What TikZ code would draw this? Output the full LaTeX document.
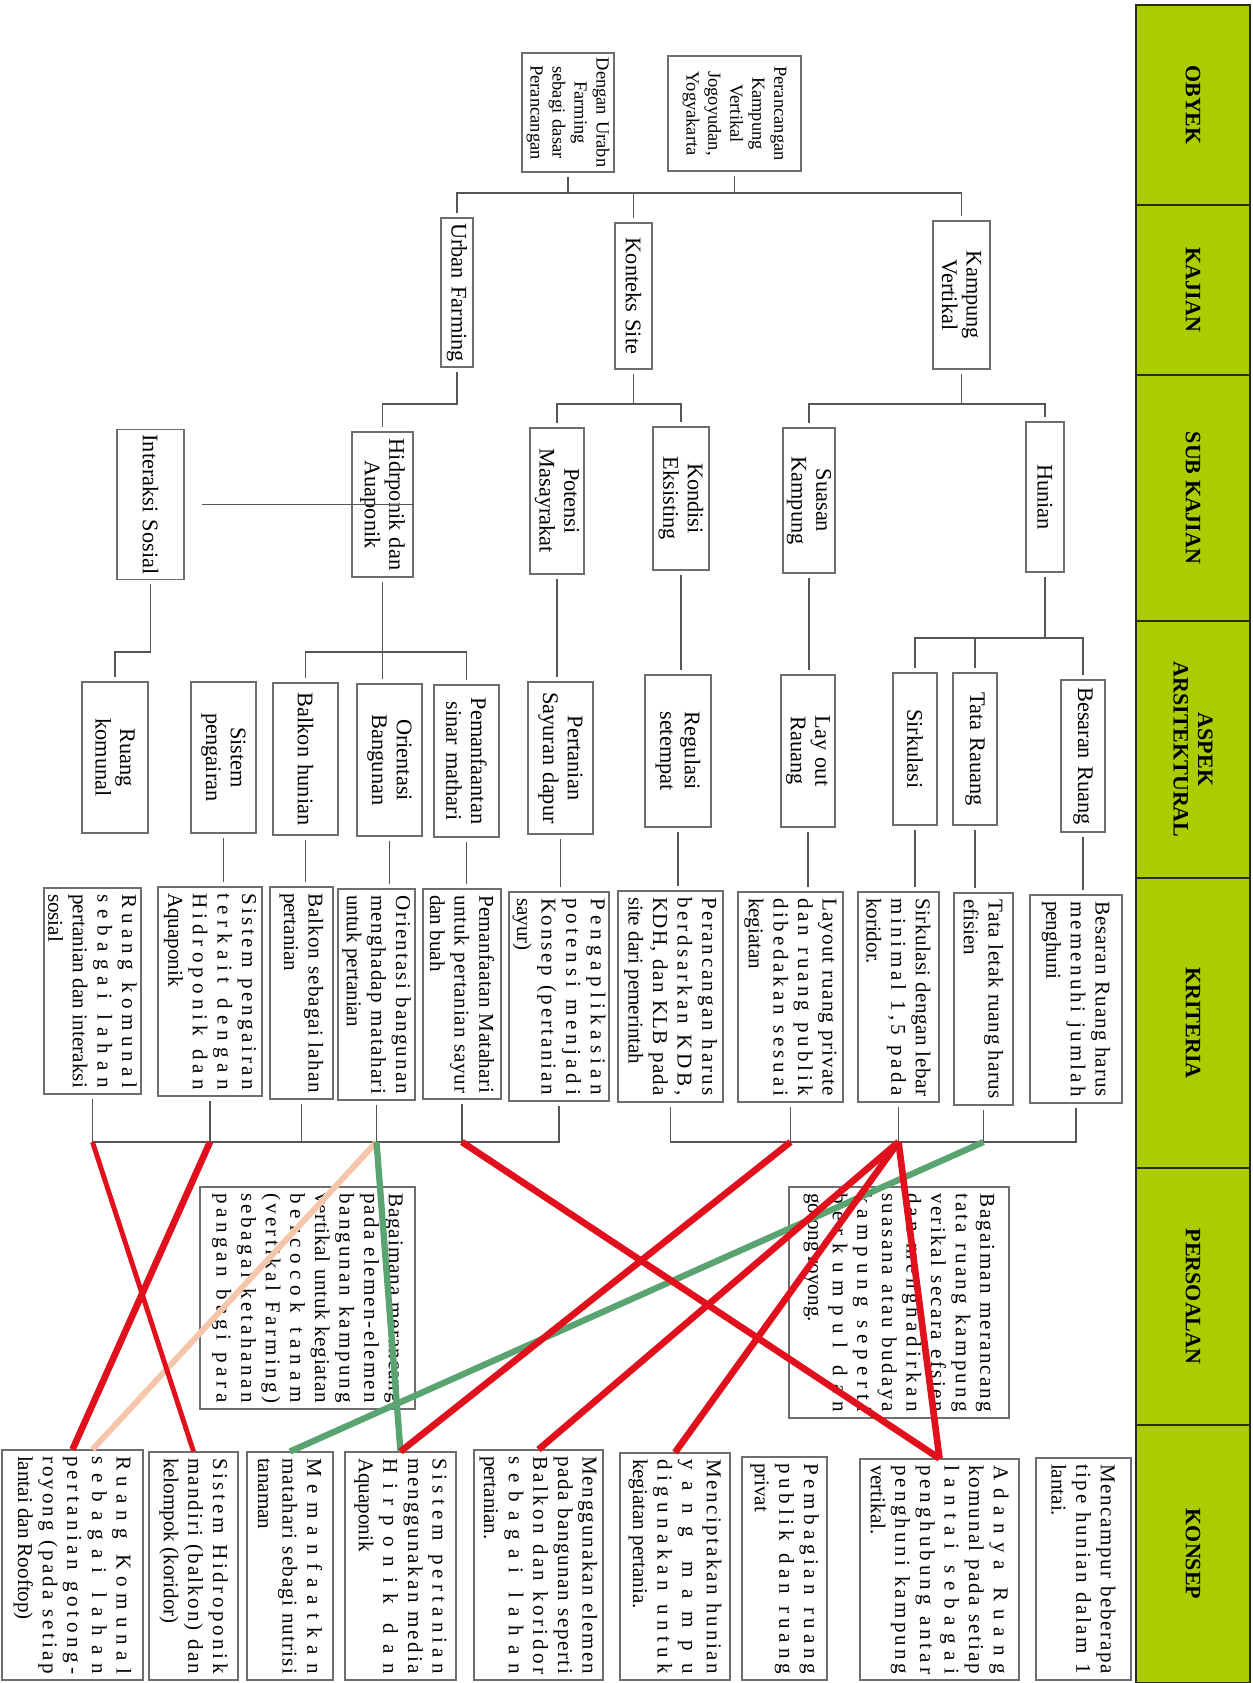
\documentclass[tikz,border=0pt]{standalone}
\usepackage{fontspec}
\setmainfont{Liberation Serif}
\usetikzlibrary{calc}
\definecolor{chead}{HTML}{AACC00}
\definecolor{cheadD}{HTML}{2B2B1A}
\definecolor{cbox}{HTML}{6E6E6E}
\definecolor{cline}{HTML}{555555}
\definecolor{cred}{HTML}{E0101C}
\definecolor{cgreen}{HTML}{5AA471}
\definecolor{cpeach}{HTML}{F5C6A9}
% letters get a little stretch inside justified lines
\newcount\chcnt
\chcnt=`A \loop\XeTeXcharclass\chcnt=1 \ifnum\chcnt<`Z \advance\chcnt by 1 \repeat
\chcnt=`a \loop\XeTeXcharclass\chcnt=1 \ifnum\chcnt<`z \advance\chcnt by 1 \repeat
\chcnt=`0 \loop\XeTeXcharclass\chcnt=1 \ifnum\chcnt<`9 \advance\chcnt by 1 \repeat
\XeTeXcharclass`(=1 \XeTeXcharclass`)=1 \XeTeXcharclass`,=1 \XeTeXcharclass`.=1 \XeTeXcharclass`-=1
\XeTeXinterchartoks 1 1 = {\hskip 0pt plus 1pt\relax}
% one justified line of a text box
\newcommand\jl[1]{\leavevmode\hbox to\hsize{\XeTeXinterchartokenstate=1 \spaceskip=0pt\xspaceskip=0pt\relax #1}\par}
\tikzset{
  cell/.style 2 args={draw=cbox, line width=0.6pt, rotate=-90, inner xsep=1.2mm, inner ysep=0.5mm,
               minimum width=#1*0.2mm, minimum height=#2*0.2mm, text width=#1*0.2mm-2.4mm},
  ntree/.style 2 args={cell={#1}{#2}, align=center, inner xsep=0.5mm, text width=#1*0.2mm-1mm,
               font=\fontsize{12.7}{14}\selectfont},
  nobj/.style 2 args={ntree={#1}{#2}, font=\fontsize{10.5}{12.5}\selectfont},
  nkrit/.style 2 args={cell={#1}{#2}, align=justify, font=\fontsize{12}{14}\selectfont},
  nhead/.style={rotate=-90, draw=cheadD, fill=chead, line width=1.6pt, align=center,
               minimum width=#1*0.2mm, minimum height=22.8mm,
               font=\fontsize{12.5}{14}\selectfont\bfseries},
  tline/.style={draw=cline, line width=0.7pt},
  tgap/.style={tline, shorten <=0.8mm, shorten >=0.8mm},
  tdrop/.style={tline, shorten >=0.8mm},
  lred/.style={draw=cred, line width=3.8pt},
  lgreen/.style={draw=cgreen, line width=3.6pt},
  lpeach/.style={draw=cpeach, line width=3.4pt},
}
\begin{document}
\begin{tikzpicture}[x=0.2mm, y=-0.2mm]
  \useasboundingbox (0,0) rectangle (1253,1683);
  % header column
  \node[nhead=200] (hobj) at (1193,105) {OBYEK};
  \node[nhead=170] (hkaj) at (1193,290) {KAJIAN};
  \node[nhead=246] (hsub) at (1193,498) {SUB KAJIAN};
  \node[nhead=257] (hasp) at (1193,749.5) {ASPEK\\ARSITEKTURAL};
  \node[nhead=290] (hkri) at (1193,1023) {KRITERIA};
  \node[nhead=257] (hsoal) at (1193,1296.5) {PERSOALAN};
  \node[nhead=258] (hkon) at (1193,1554) {KONSEP};

  \coordinate (b1) at (0,193);
  \coordinate (b2) at (0,404);
  \coordinate (b3) at (0,652);
  \coordinate (b4) at (0,638);
  \coordinate (kbus) at (0,1142);

  % obyek
  \node[nobj={115}{133}] (ob1) at (734.5,113.5) {Perancangan\\Kampung\\Vertikal\\Jogoyudan,\\Yogyakarta};
  \node[nobj={119}{92}] (ob2) at (568,112.5) {Dengan Urabn\\Farming\\sebagi dasar\\Perancangan};

  % kajian
  \node[ntree={149}{32}] (uf) at (457,292.5) {Urban Farming};
  \node[ntree={146}{37}] (ks) at (633.5,296) {Konteks Site};
  \node[ntree={148}{57}] (kv) at (961.5,295) {Kampung\\Vertikal};

  % sub kajian
  \node[ntree={150}{67}] (is) at (150.5,504.5) {Interaksi Sosial};
  \node[ntree={145}{61}] (hd) at (382.5,504.5) {Hidrponik dan\\Auaponik};
  \node[ntree={146}{54}] (pm) at (557,501) {Potensi\\Masayrakat};
  \node[ntree={143}{56}] (ke) at (681,498.5) {Kondisi\\Eksisting};
  \node[ntree={145}{52}] (sk) at (809,500.5) {Suasan\\Kampung};
  \node[ntree={150}{38}] (hn) at (1045,497) {Hunian};

  % aspek arsitektural
  \node[ntree={151}{66}] (rk) at (115,757.5) {Ruang\\komunal};
  \node[ntree={151}{65}] (sp) at (223.5,757.5) {Sistem\\pengairan};
  \node[ntree={152}{65}] (bh) at (305.5,759) {Balkon hunian};
  \node[ntree={152}{65}] (orr) at (389.5,760) {Orientasi\\Bangunan};
  \node[ntree={152}{65}] (ps) at (466.5,761) {Pemanfaantan\\sinar mathari};
  \node[ntree={152}{65}] (pd) at (560.5,758) {Pertanian\\Sayuran dapur};
  \node[ntree={152}{66}] (rg) at (678,751) {Regulasi\\setempat};
  \node[ntree={152}{54}] (lo) at (808,751) {Lay out\\Rauang};
  \node[ntree={152}{44}] (sr) at (915,749) {Sirkulasi};
  \node[ntree={152}{44}] (tr) at (975,749) {Tata Rauang};
  \node[ntree={152}{44}] (br) at (1083,756) {Besaran Ruang};

  % kriteria
  \node[nkrit={206}{97}] (r1) at (92.5,991) {\jl{Ruang komunal}\jl{sebagai lahan}\jl{pertanian dan interaksi}sosial};
  \node[nkrit={209}{104}] (r2) at (210,991.5) {\jl{Sistem pengairan}\jl{terkait dengan}\jl{Hidroponik dan}Aquaponik};
  \node[nkrit={212}{63}] (r3) at (301.5,993) {\jl{Balkon sebagai lahan}pertanian};
  \node[nkrit={211}{77}] (r4) at (376.5,994.5) {\jl{Orientasi bangunan}\jl{menghadap matahari}untuk pertanian};
  \node[nkrit={210}{78}] (r5) at (462,994) {\jl{Pemanfaatan Matahari}\jl{untuk pertanian sayur}dan buah};
  \node[nkrit={209}{100}] (r6) at (559,996.5) {\jl{Pengaplikasian}\jl{potensi menjadi}\jl{Konsep (pertanian}sayur)};
  \node[nkrit={211}{105}] (r7) at (670.5,996.5) {\jl{Perancangan harus}\jl{berdsarkan KDB,}\jl{KDH, dan KLB pada}site dari pemerintah};
  \node[nkrit={210}{105}] (r8) at (790.5,997) {\jl{Layout ruang private}\jl{dan ruang publik}\jl{dibedakan sesuai}kegiatan};
  \node[nkrit={210}{81}] (r9) at (898.5,997) {\jl{Sirkulasi dengan lebar}\jl{minimal 1,5 pada}koridor.};
  \node[nkrit={212}{59}] (r10) at (983.5,999) {\jl{Tata letak ruang harus}efisien};
  \node[nkrit={208}{92}] (r11) at (1076,999) {\jl{Besaran Ruang harus}\jl{memenuhi jumlah}penghuni};

  % persoalan
  \node[nkrit={222}{215}] (p1) at (307.5,1298) {\jl{Bagaimana merancang}\jl{pada elemen-elemen}\jl{bangunan kampung}\jl{vertikal untuk kegiatan}\jl{bercocok tanam}\jl{(vertikal Farming)}\jl{sebagai ketahanan}\jl{pangan bagi para}};
  \node[nkrit={231}{220}] (p2) at (899,1302.5) {\jl{Bagaiman merancang}\jl{tata ruang kampung}\jl{verikal secara efsien}\jl{dan menghadirkan}\jl{suasana atau budaya}\jl{kampung seperti}\jl{berkumpul dan}gotong royong.};

  % konsep
  \node[nkrit={222}{95}] (k1) at (1083.5,1569) {\jl{Mencampur beberapa}\jl{tipe hunian dalam 1}lantai.};
  \node[nkrit={221}{159}] (k2) at (939.5,1569.5) {\jl{Adanya Ruang}\jl{komunal pada setiap}\jl{lantai sebagai}\jl{penghubung antar}\jl{penghuni kampung}vertikal.};
  \node[nkrit={223}{85}] (k3) at (784.5,1568.5) {\jl{Pembagian ruang}\jl{publik dan ruang}privat};
  \node[nkrit={227}{110}] (k4) at (675,1566.5) {\jl{Menciptakan hunian}\jl{yang mampu}\jl{digunakan untuk}kegiatan pertania.};
  \node[nkrit={230}{129}] (k5) at (538.5,1565) {\jl{Menggunakan elemen}\jl{pada bangunan seperti}\jl{Balkon dan koridor}\jl{sebagai lahan}pertanian.};
  \node[nkrit={228}{111}] (k6) at (400.5,1566) {\jl{Sistem pertanian}\jl{menggunakan media}\jl{Hirponik dan}Aquaponik};
  \node[nkrit={228}{86}] (k7) at (290,1566) {\jl{Memanfaatkan}\jl{matahari sebagi nutrisi}tanaman};
  \node[nkrit={228}{89}] (k8) at (193.5,1566) {\jl{Sistem Hidroponik}\jl{mandiri (balkon) dan}kelompok (koridor)};
  \node[nkrit={230}{141}] (k9) at (72.5,1565) {\jl{Ruang Komunal}\jl{sebagai lahan}\jl{pertanian gotong-}\jl{royong (pada setiap}lantai dan Rooftop)};

  % tree connectors
  \draw[tgap] (uf.west) |- (kv.west |- b1) -- (kv.west);
  \foreach \n/\a in {ob1/east,ob2/east,ks/west} \draw[tdrop] (\n.\a |- b1) -- (\n.\a);
  \draw[tgap] (uf.east) |- (hd.west |- b2) -- (hd.west);
  \draw[tgap] (pm.west) |- (ke.west |- b2) -- (ke.west);
  \draw[tgap] (sk.west) |- (hn.west |- b2) -- (hn.west);
  \foreach \n in {ks,kv} \draw[tdrop] (\n.east |- b2) -- (\n.east);
  \draw[tline, shorten <=3.4mm] (is.north) -- (hd.north);
  \draw[tgap] (is.east) |- (rk.west |- b3) -- (rk.west);
  \draw[tgap] (bh.west) |- (ps.west |- b3) -- (ps.west);
  \draw[tdrop] (hd.east |- b3) -- (hd.east);
  \draw[tdrop] (hd.east |- b3) -- (hd.east |- orr.west);
  \draw[tgap] (pm.east) -- (pm.east |- pd.west);
  \draw[tgap] (ke.east) -- (ke.east |- rg.west);
  \draw[tgap] (sk.east) -- (sk.east |- lo.west);
  \draw[tgap] (sr.west) |- (br.west |- b4) -- (br.west);
  \draw[tdrop] (hn.east |- b4) -- (hn.east);
  \draw[tdrop] (tr.west |- b4) -- (tr.west);
  \foreach \a/\k in {sp/r2,bh/r3,orr/r4,ps/r5,pd/r6,rg/r7,lo/r8,sr/r9,tr/r10,br/r11}
    \draw[tgap] (\a.east) -- (\a.east |- \k.west);
  \draw[tgap] (r1.east) |- (r6.east |- kbus) -- (r6.east);
  \draw[tgap] (r7.east) |- (r11.east |- kbus) -- (r11.east);
  \foreach \k in {r2,r3,r4,r5,r8,r9,r10} \draw[tdrop] (\k.east |- kbus) -- (\k.east);

  % links kriteria -> konsep
  \draw[lpeach] (r4.east |- kbus) -- ($(k9.west)+(20,0)$);
  \foreach \p/\q in {r4/k6,r10/k7} \draw[lgreen] (\p.east |- kbus) -- (\q.west);
  \draw[lred, line width=2.8pt] (r1.east |- kbus) -- (k8.west);
  \foreach \p/\q in {r2/k9,r5/k2,r8/k6,r9/k5,r9/k4,r9/k2} \draw[lred] (\p.east |- kbus) -- (\q.west);
\end{tikzpicture}
\end{document}
